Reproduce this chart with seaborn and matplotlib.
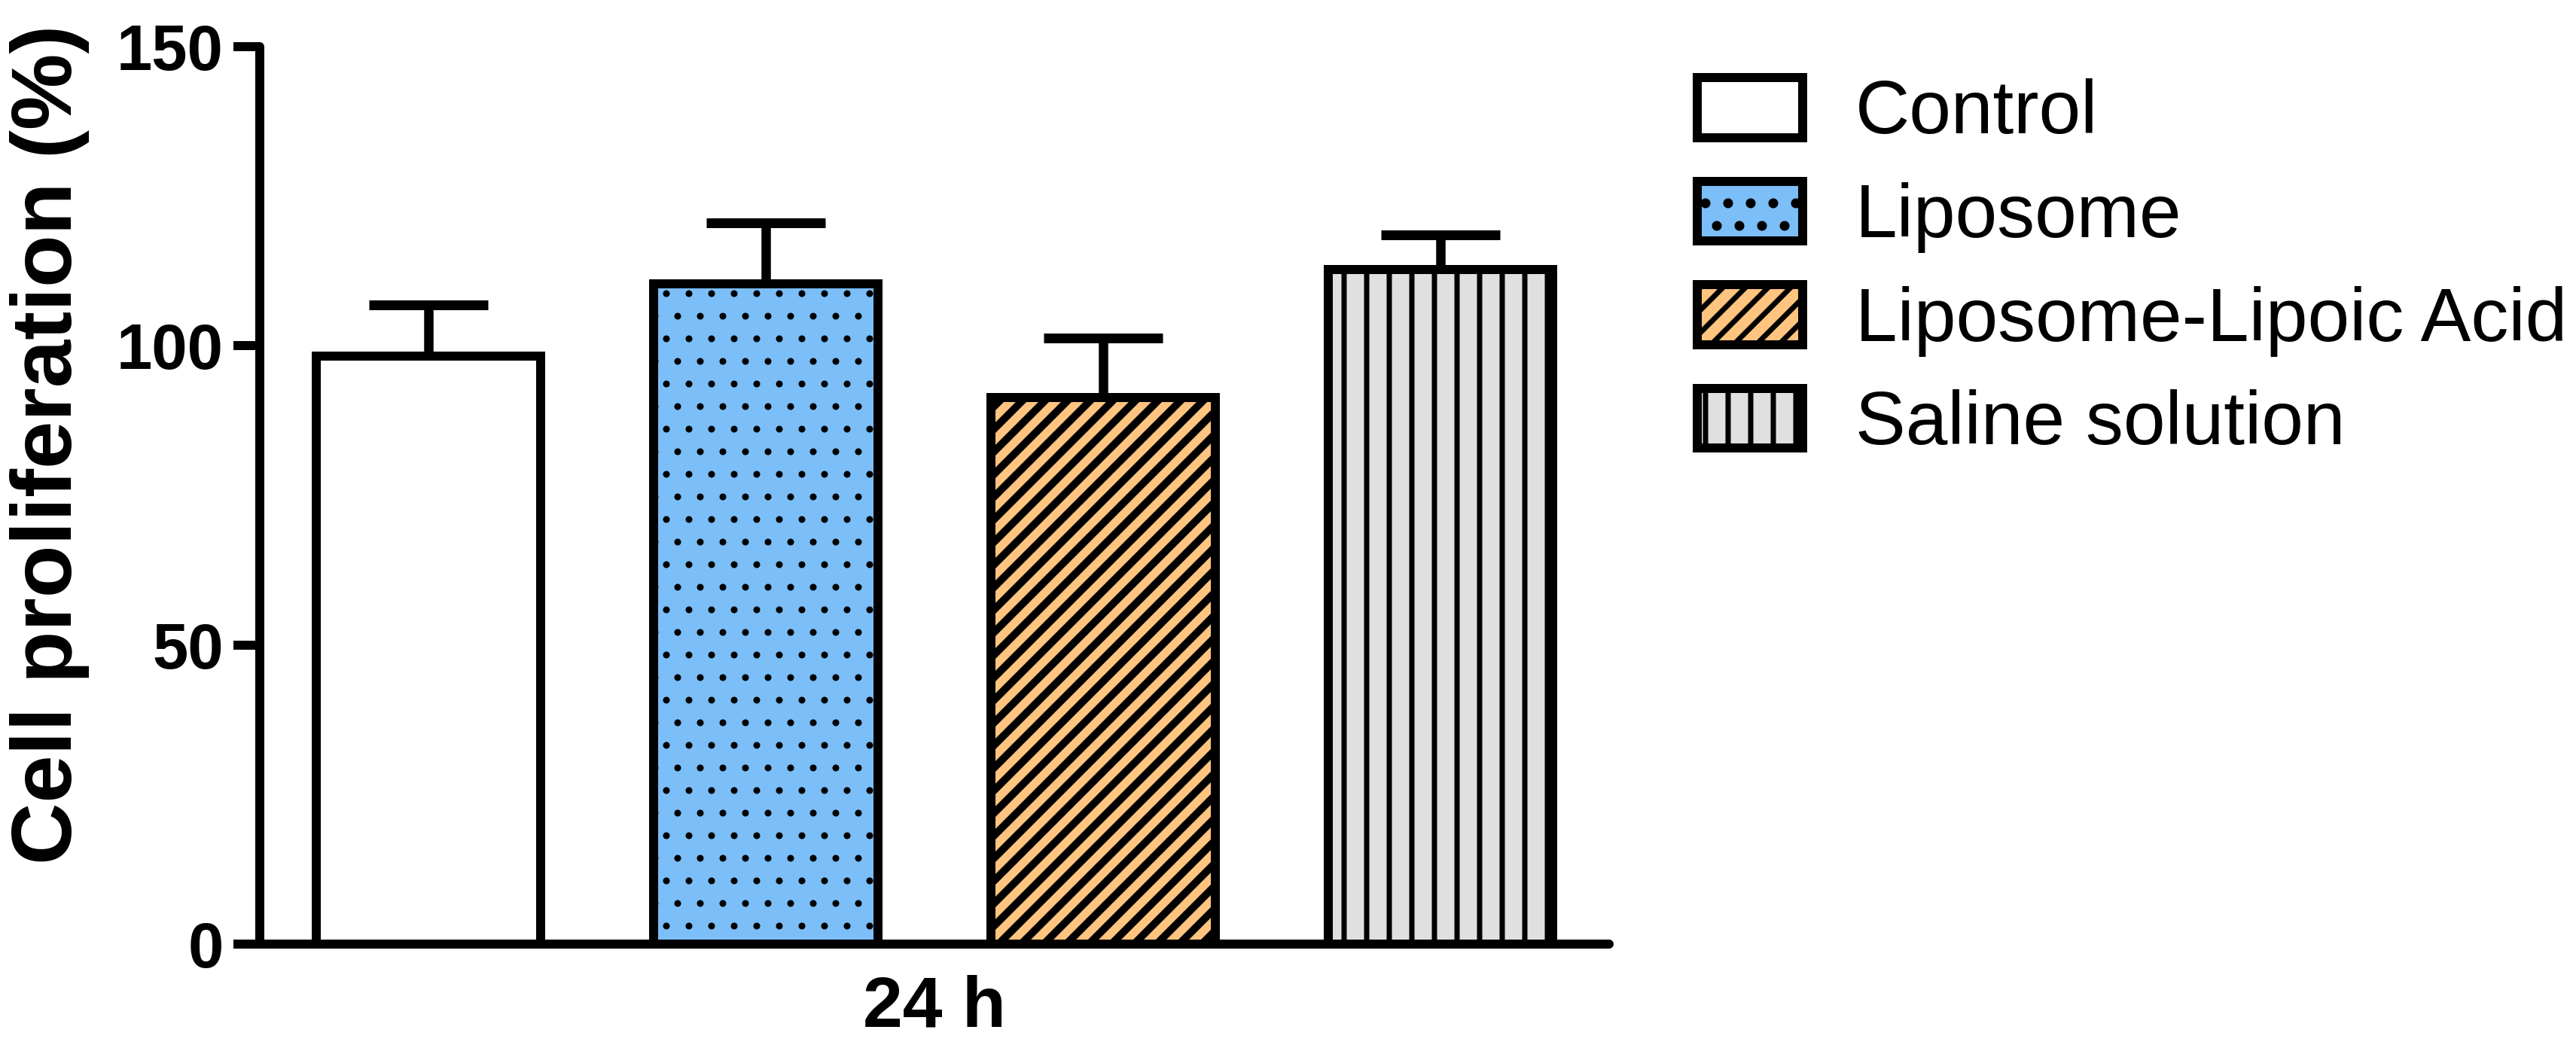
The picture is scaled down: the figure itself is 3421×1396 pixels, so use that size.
import numpy as np
import pandas as pd
import matplotlib
matplotlib.use('Agg')
import matplotlib.pyplot as plt
import seaborn as sns

# ---- data ----
groups = ['Control', 'Liposome', 'Liposome-Lipoic Acid', 'Saline solution']
time_label = ['24 h']
values = [98.3, 110.4, 91.4, 112.8]
errors = [8.6, 10.1, 9.9, 5.8]
colors = ['#FFFFFF', '#7BBEF8', '#FFC47F', '#E0E0E0']
hatches = ['', '..', '////', '||']
hatch_lw = [1.0, 0.6, 2.0, 1.4]
yticks = [0, 50, 100, 150]

sns.set_theme(style='ticks')
plt.rcParams['font.family'] = ['Liberation Sans', 'DejaVu Sans']
plt.rcParams['text.color'] = 'black'
plt.rcParams['axes.labelcolor'] = 'black'
plt.rcParams['hatch.linewidth'] = 1.4
plt.rcParams['hatch.color'] = 'black'

df = pd.DataFrame({'time': time_label * len(groups), 'group': groups, 'value': values})

W, H, DPI = 3421, 1396, 360
fig = plt.figure(figsize=(W / DPI, H / DPI), dpi=DPI, facecolor='white')
ax = fig.add_axes([345 / W, (H - 1254) / H, 1792 / W, (1254 - 62) / H])

sns.barplot(data=df, x='time', y='value', hue='group', hue_order=groups,
            palette=dict(zip(groups, colors)), width=0.8, gap=0.333,
            edgecolor='black', linewidth=2.4, errorbar=None, legend=False,
            saturation=1, ax=ax)

bars = list(ax.patches[:len(groups)])
for p, h, lw in zip(bars, hatches, hatch_lw):
    p.set_hatch(h)
    p.set_edgecolor('black')
    try:
        p.set_hatch_linewidth(lw)
    except AttributeError:
        pass

centers = [p.get_x() + p.get_width() / 2 for p in bars]
eb = ax.errorbar(centers, values, yerr=[np.zeros(len(errors)), errors], fmt='none',
                 ecolor='black', elinewidth=2.5, capsize=15.8, capthick=2.6, zorder=0.5)

ax.set_xlim(-0.4, 0.4)
ax.set_ylim(0, 150)
ax.set_yticks(yticks)
ax.set_xlabel('')
ax.set_ylabel('Cell proliferation (%)', fontsize=22.8, fontweight='bold', color='black')
ax.yaxis.set_label_coords(-0.126, 0.557)

sns.despine(ax=ax)
for s in ['left', 'bottom']:
    ax.spines[s].set_linewidth(2.4)
    ax.spines[s].set_color('black')
    ax.spines[s].set_capstyle('round')

ax.tick_params(axis='y', length=7, width=2.4, labelsize=17, pad=2.6, color='black', labelcolor='black')
ax.tick_params(axis='x', length=0, labelsize=19, pad=8, labelcolor='black')
for lbl in ax.get_yticklabels() + ax.get_xticklabels():
    lbl.set_fontweight('bold')

leg = fig.legend(bars, groups, loc='center left', bbox_to_anchor=(2254 / W, 1 - 357 / H),
                 frameon=False, fontsize=20, borderpad=0, borderaxespad=0,
                 handlelength=1.4, handleheight=0.85, handletextpad=0.7, labelspacing=0.42)
for t in leg.get_texts():
    t.set_color('black')

fig.savefig('out.png', dpi=DPI, facecolor='white')
